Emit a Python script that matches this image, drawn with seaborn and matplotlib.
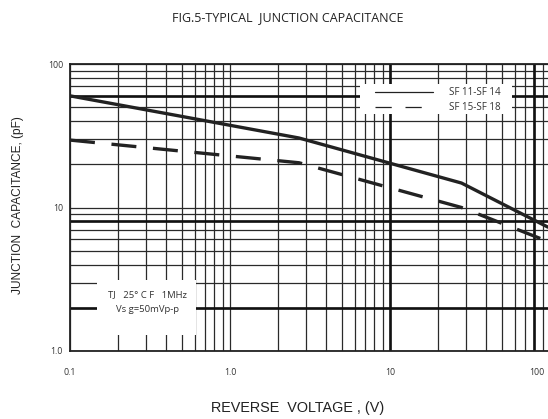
import numpy as np
import pandas as pd
import matplotlib
matplotlib.use("Agg")
import matplotlib.pyplot as plt
from matplotlib.lines import Line2D
from matplotlib.patches import Rectangle
from matplotlib.ticker import LogLocator, NullFormatter
import seaborn as sns

# ---- data ----
voltage_solid = [0.1, 2.7, 28, 97]
cap_solid = [60, 30.5, 14.8, 7.3]
voltage_dashed = [0.1, 2.7, 28, 97]
cap_dashed = [29.5, 20.5, 10.0, 5.8]
series_names = ["SF 11-SF 14", "SF 15-SF 18"]

x_ticks = [0.1, 1, 10]
x_tick_labels = ["0.1", "1.0", "10"]
x_extra_label = "100"
y_ticks = [1, 10, 100]
y_tick_labels = ["1.0", "10", "100"]
heavy_y = [2, 8, 60]
heavy_x = [10, 80]

title = "FIG.5-TYPICAL  JUNCTION CAPACITANCE"
xlabel = "REVERSE  VOLTAGE , (V)"
ylabel = "JUNCTION  CAPACITANCE, (pF)"
note1 = "TJ   25° C F   1MHz"
note2 = "Vs g=50mVp-p"

df = pd.concat([
    pd.DataFrame({"V": voltage_solid, "C": cap_solid, "series": series_names[0]}),
    pd.DataFrame({"V": voltage_dashed, "C": cap_dashed, "series": series_names[1]}),
])

sns.set_theme(style="white")
plt.rcParams["font.family"] = ["Open Sans", "DejaVu Sans"]

W, H = 548, 419
fig = plt.figure(figsize=(W / 100, H / 100), dpi=100)
ax = fig.add_axes([70 / W, 1 - 351 / H, 478 / W, 287 / H])
ax.set_axisbelow(True)

ax.set_xscale("log")
ax.set_yscale("log")
ax.set_xlim(0.1, 10 ** (2 - 2 / 160))
ax.set_ylim(1, 100)

grid_col = "#2a2a2a"
ax.xaxis.set_minor_locator(LogLocator(base=10, subs=np.arange(2, 10)))
ax.yaxis.set_minor_locator(LogLocator(base=10, subs=np.arange(2, 10)))
ax.xaxis.set_minor_formatter(NullFormatter())
ax.yaxis.set_minor_formatter(NullFormatter())
ax.grid(True, which="both", color=grid_col, lw=0.9)
for v in heavy_y:
    ax.axhline(v, color="#111111", lw=1.9, zorder=0.6)
for v in heavy_x:
    ax.axvline(v, color="#111111", lw=1.9, zorder=0.6)

ax.set_xticks(x_ticks)
ax.set_xticklabels(x_tick_labels)
ax.set_yticks(y_ticks)
ax.set_yticklabels(y_tick_labels)
ax.tick_params(axis="both", which="both", length=0, labelsize=6.3, colors="#333333")
ax.tick_params(axis="x", pad=12)
ax.tick_params(axis="y", pad=5)
ax.text(83, -17 / 287, x_extra_label, transform=ax.get_xaxis_transform(),
        ha="center", va="top", fontsize=6.3, color="#333333")

for s in ["top", "left", "bottom"]:
    ax.spines[s].set_color("#222222")
    ax.spines[s].set_linewidth(1.3)
ax.spines["right"].set_visible(False)

sns.lineplot(data=df, x="V", y="C", style="series", ax=ax, color="#222222",
             lw=2.4, legend=False, zorder=3,
             dashes={series_names[0]: "", series_names[1]: (7.5, 5)})
ax.set_xlabel("")
ax.set_ylabel("")

# white boxes for legend and note (as in the reference)
def px_box(x0, y0, x1, y1):
    return Rectangle(((x0 - 70) / 478, (351 - y1) / 287), (x1 - x0) / 478, (y1 - y0) / 287,
                     transform=ax.transAxes, facecolor="white", edgecolor="none", zorder=2)

ax.add_patch(px_box(360, 84, 512, 114))
ax.add_patch(px_box(97, 280, 196, 335))

handles = [Line2D([], [], color="#222222", lw=0.9),
           Line2D([], [], color="#222222", lw=0.9, dashes=(13, 11))]
leg = ax.legend(handles, series_names, loc="upper left",
                bbox_to_anchor=((375 - 70) / 478, (351 - 87) / 287),
                frameon=False, fontsize=7, handlelength=6.0, handletextpad=1.6,
                labelspacing=0.45, borderpad=0, borderaxespad=0)
for t in leg.get_texts():
    t.set_color("#333333")
leg.set_zorder(4)

ax.text((147 - 70) / 478, (351 - 295) / 287, note1, transform=ax.transAxes,
        ha="center", va="center", fontsize=6.8, color="#333333", zorder=4)
ax.text((147 - 70) / 478, (351 - 309) / 287, note2, transform=ax.transAxes,
        ha="center", va="center", fontsize=6.8, color="#333333", zorder=4)

fig.text(288 / W, 1 - 18 / H, title, ha="center", va="center", fontsize=9.0,
         color="#222222")
fig.text(298 / W, 1 - 408 / H, xlabel, ha="center", va="center", fontsize=10.4,
         color="#222222", family=["Liberation Sans", "DejaVu Sans"])
fig.text(18 / W, 1 - 205 / H, ylabel, ha="center", va="center", rotation=90,
         fontsize=8.6, color="#222222", family=["Liberation Sans", "DejaVu Sans"])

fig.savefig("out.png", dpi=100, facecolor="white")
